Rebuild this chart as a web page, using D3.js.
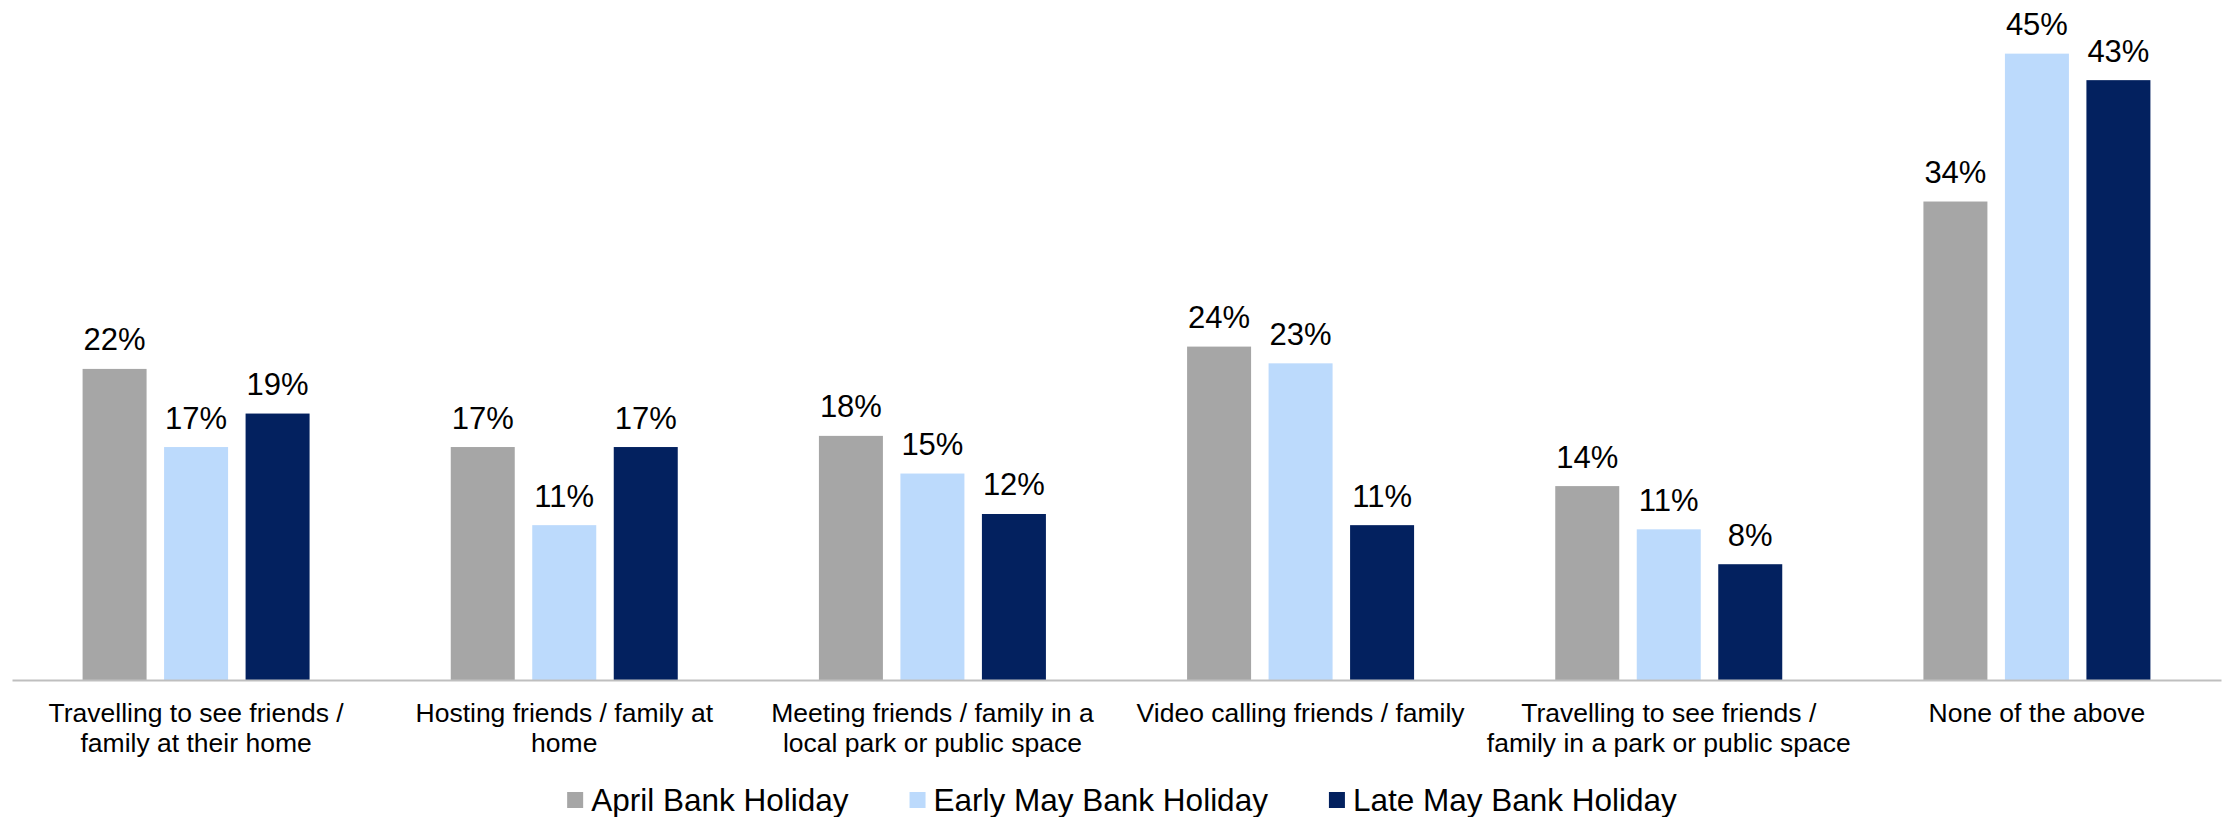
<!DOCTYPE html>
<html>
<head>
<meta charset="utf-8">
<script src="https://cdn.jsdelivr.net/npm/d3@7"></script>
<style>
  html, body { margin: 0; padding: 0; background: #fff; }
  svg { display: block; font-family: "Liberation Sans", Arial, sans-serif; }
</style>
</head>
<body>
<svg id="chart" width="2226" height="817"></svg>
<script>
// ---- data ----
const categories = [
  "Travelling to see friends / family at their home",
  "Hosting friends / family at home",
  "Meeting friends / family in a local park or public space",
  "Video calling friends / family",
  "Travelling to see friends / family in a park or public space",
  "None of the above"
];
const categoryLines = [
  ["Travelling to see friends /", "family at their home"],
  ["Hosting friends / family at", "home"],
  ["Meeting friends / family in a", "local park or public space"],
  ["Video calling friends / family"],
  ["Travelling to see friends /", "family in a park or public space"],
  ["None of the above"]
];
const seriesNames = ["April Bank Holiday", "Early May Bank Holiday", "Late May Bank Holiday"];
const aprilValues    = [22.3, 16.7, 17.5, 23.9, 13.9, 34.3];
const earlyMayValues = [16.7, 11.1, 14.8, 22.7, 10.8, 44.9];
const lateMayValues  = [19.1, 16.7, 11.9, 11.1, 8.3, 43.0];
const valueLabels = [
  ["22%", "17%", "18%", "24%", "14%", "34%"],
  ["17%", "11%", "15%", "23%", "11%", "45%"],
  ["19%", "17%", "12%", "11%", "8%", "43%"]
];
const seriesColors = ["#a6a6a6", "#bcdafc", "#03215f"];

const seriesValues = [aprilValues, earlyMayValues, lateMayValues];

// ---- layout ----
const svg = d3.select("#chart");
const axisY = 680;
const x0 = d3.scaleBand().domain(categories).range([12, 2221]).padding(0);
const innerPadIn = 17.5 / 81.5;
const innerPadOut = ((x0.bandwidth() / 81.5) - 3 + innerPadIn) / 2;
const x1 = d3.scaleBand().domain(seriesNames).range([0, x0.bandwidth()])
  .paddingInner(innerPadIn).paddingOuter(innerPadOut);
const y = d3.scaleLinear().domain([0, 48]).range([axisY, axisY - 48 * 13.95]);

// ---- bars ----
const groups = svg.append("g").selectAll("g")
  .data(categories)
  .join("g")
  .attr("transform", d => `translate(${x0(d)},0)`);

groups.each(function(cat, ci) {
  const g = d3.select(this);
  seriesNames.forEach((s, si) => {
    const v = seriesValues[si][ci];
    g.append("rect")
      .attr("x", x1(s))
      .attr("y", y(v))
      .attr("width", x1.bandwidth())
      .attr("height", y(0) - y(v))
      .attr("fill", seriesColors[si]);
    g.append("text")
      .attr("x", x1(s) + x1.bandwidth() / 2)
      .attr("y", y(v) - 18.5)
      .attr("text-anchor", "middle")
      .attr("font-size", "31px")
      .attr("fill", "#000")
      .text(valueLabels[si][ci]);
  });
});

// ---- x axis ----
const axis = svg.append("g")
  .attr("transform", `translate(0,${axisY})`)
  .call(d3.axisBottom(x0).tickSize(0).tickSizeOuter(0));
axis.select(".domain").attr("stroke", "#bfbfbf").attr("stroke-width", 2.2);
axis.selectAll(".tick text").remove();
axis.selectAll(".tick").each(function(d) {
  const ci = categories.indexOf(d);
  const t = d3.select(this).append("text")
    .attr("text-anchor", "middle")
    .attr("font-size", "26.5px")
    .attr("fill", "#000")
    .attr("font-family", "'Liberation Sans', Arial, sans-serif");
  categoryLines[ci].forEach((line, li) => {
    t.append("tspan").attr("x", 0).attr("y", 41.7 + li * 30).text(line);
  });
});

// ---- legend ----
const legend = svg.append("g");
const items = [];
seriesNames.forEach((s, i) => {
  const g = legend.append("g");
  g.append("rect").attr("x", 0).attr("y", 792).attr("width", 16).attr("height", 16)
    .attr("fill", seriesColors[i]);
  const t = g.append("text").attr("x", 24).attr("y", 811)
    .attr("font-size", "31.5px").attr("fill", "#000").text(s);
  items.push({ g, w: 24 + t.node().getComputedTextLength() });
});
const gap = 61;
const total = d3.sum(items, d => d.w) + gap * (items.length - 1);
let lx = 1122 - total / 2;
items.forEach(it => {
  it.g.attr("transform", `translate(${lx},0)`);
  lx += it.w + gap;
});
</script>
</body>
</html>
